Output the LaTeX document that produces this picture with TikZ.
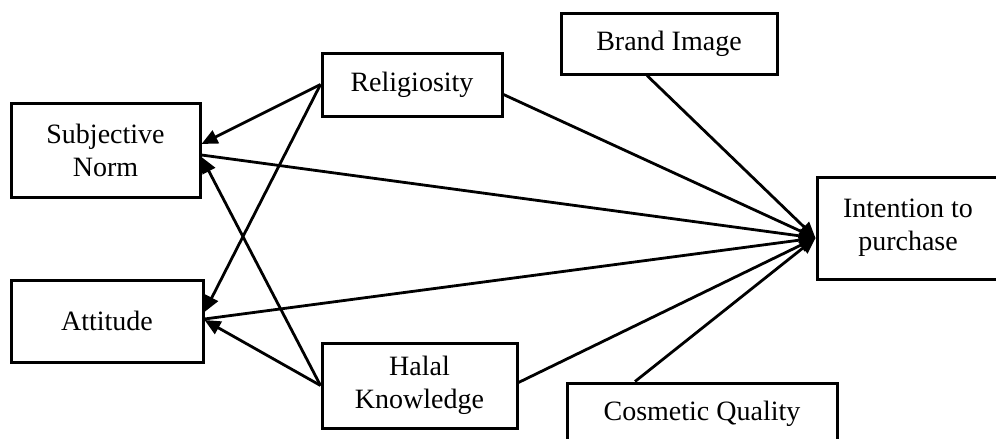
\documentclass[tikz,border=0pt]{standalone}
\usepackage{fontspec}
\setmainfont{Liberation Serif}
\usetikzlibrary{arrows.meta}
\begin{document}
\begin{tikzpicture}[x=0.5pt,y=-0.5pt,
  box/.style={draw,line width=1.5pt,inner sep=0pt,align=center,
    font=\fontsize{14}{16.5}\selectfont},
  link/.style={line width=1.4pt,-{Triangle[length=8pt,width=7pt]}}]
\useasboundingbox (0,0) rectangle (996,439);
\node[box,minimum width=94.5pt,minimum height=47pt] (sn) at (105.5,150) {Subjective\\Norm};
\node[box,minimum width=96pt,minimum height=41pt] (att) at (107,321) {Attitude};
\node[box,minimum width=90pt,minimum height=31.5pt] (rel) at (412,84.5) {Religiosity};
\node[box,minimum width=97.5pt,minimum height=42.5pt] (hal) at (419.5,385.5) {Halal\\Knowledge};
\node[box,minimum width=108pt,minimum height=30.5pt] (bi) at (669,43.5) {Brand Image};
\node[box,minimum width=91pt,minimum height=51pt] (int) at (908,228) {Intention to\\purchase};
\node[box,minimum width=135pt,minimum height=31pt] (cq) at (702,414) {Cosmetic Quality};
\coordinate (ip) at ([yshift=-5pt]int.west);
% to Subjective Norm and Attitude
\draw[link] (rel.west) -- ([yshift=3pt]sn.east);
\draw[link] (rel.west) -- ([yshift=4.5pt]att.east);
\draw[link] (hal.west) -- ([yshift=-3.5pt]sn.east);
\draw[link] (hal.west) -- ([yshift=0.5pt]att.east);
% to Intention
\draw[link] ([yshift=-2.5pt]sn.east) -- (ip);
\draw[link] ([yshift=1pt]att.east) -- (ip);
\draw[link] ([yshift=-5pt]rel.east) -- (ip);
\draw[link] ([xshift=-11pt]bi.south) -- (ip);
\draw[link] ([yshift=1.5pt]hal.east) -- (ip);
\draw[link] ([xshift=-33.5pt]cq.north) -- (ip);
\end{tikzpicture}
\end{document}
